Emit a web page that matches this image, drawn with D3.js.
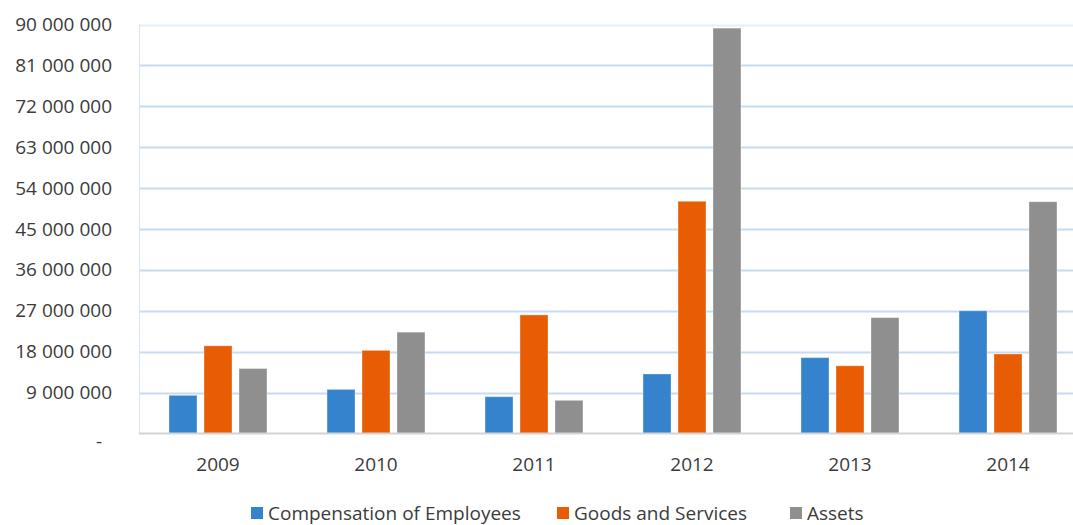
<!DOCTYPE html>
<html><head><meta charset="utf-8">
<script src="https://cdn.jsdelivr.net/npm/d3@7"></script>
<style>
body{margin:0;background:#fff;}
svg{display:block;}
text{font-family:"Open Sans",sans-serif;fill:#3b3b3b;}
</style></head>
<body>
<svg id="c" width="1073" height="525"></svg>
<script>
const years = ["2009","2010","2011","2012","2013","2014"];
const seriesNames = ["Compensation of Employees","Goods and Services","Assets"];
const compensation = [8.4e6, 9.7e6, 8.1e6, 13.1e6, 16.7e6, 27.0e6];
const goods = [19.3e6, 18.3e6, 26.1e6, 51.1e6, 14.9e6, 17.5e6];
const assets = [14.3e6, 22.3e6, 7.3e6, 89.2e6, 25.5e6, 51.0e6];
const yTicks = [0, 9e6, 18e6, 27e6, 36e6, 45e6, 54e6, 63e6, 72e6, 81e6, 90e6];
const colors = ["#3583CC", "#E85D04", "#8F8F8F"];

const series = [compensation, goods, assets];
const svg = d3.select("#c");
const pLeft = 139, pRight = 1087, pTop = 24.5, pBottom = 433.5;

const y = d3.scaleLinear().domain([0, 90e6]).range([pBottom, pTop]);
const x0 = d3.scaleBand().domain(years).range([pLeft, pRight]).paddingInner(0.38).paddingOuter(0.19);
const x1 = d3.scaleBand().domain(d3.range(3)).range([0, x0.bandwidth()]).paddingInner(0.2);

const fmt = v => v === 0 ? "-" : d3.format(",")(v).replace(/,/g, " ");

// gridlines
svg.append("g").selectAll("line").data(yTicks.filter(v => v > 0)).join("line")
  .attr("x1", pLeft).attr("x2", pRight)
  .attr("y1", d => Math.round(y(d)) + 0.5).attr("y2", d => Math.round(y(d)) + 0.5)
  .attr("stroke", d => d === 90e6 ? "#E6EFF9" : "#C5DCF1").attr("stroke-width", 2);

// left axis line
svg.append("line").attr("x1", pLeft + 0.5).attr("x2", pLeft + 0.5).attr("y1", pTop).attr("y2", pBottom)
  .attr("stroke", "#D6E5F4").attr("stroke-width", 1);

// y axis labels
const yAxis = d3.axisLeft(y).tickValues(yTicks).tickFormat(fmt).tickSize(0).tickPadding(0);
const ya = svg.append("g").attr("transform", `translate(112,0)`).call(yAxis);
ya.select(".domain").remove();
ya.selectAll("text").attr("font-size", 19).attr("font-family", "Open Sans").attr("fill", "#3b3b3b")
  .attr("dy", d => d === 0 ? "0.75em" : "0.32em")
  .attr("dx", d => d === 0 ? "-10" : "0");

// bars
const g = svg.append("g");
years.forEach((yr, i) => {
  series.forEach((s, j) => {
    g.append("rect")
      .attr("x", x0(yr) + x1(j))
      .attr("y", y(s[i]))
      .attr("width", x1.bandwidth())
      .attr("height", pBottom - y(s[i]))
      .attr("fill", colors[j])
      .attr("stroke", "#ffffff").attr("stroke-opacity", 0.35).attr("stroke-width", 1);
  });
});

// baseline
svg.append("line").attr("x1", pLeft).attr("x2", pRight).attr("y1", pBottom).attr("y2", pBottom)
  .attr("stroke", "#D4D4D4").attr("stroke-width", 2);

// x axis labels
const xAxis = d3.axisBottom(x0).tickSize(0).tickPadding(0);
const xa = svg.append("g").attr("transform", `translate(0,${pBottom})`).call(xAxis);
xa.select(".domain").remove();
xa.selectAll("text").attr("font-size", 19).attr("font-family", "Open Sans").attr("fill", "#3b3b3b")
  .attr("y", 0).attr("dy", "37");

// legend
const legendX = [251, 557, 790];
const lg = svg.append("g");
seriesNames.forEach((n, j) => {
  lg.append("rect").attr("x", legendX[j]).attr("y", 507).attr("width", 12).attr("height", 12).attr("fill", colors[j]);
  lg.append("text").attr("x", legendX[j] + 17).attr("y", 520).attr("font-size", 19).text(n);
});
</script>
</body></html>
